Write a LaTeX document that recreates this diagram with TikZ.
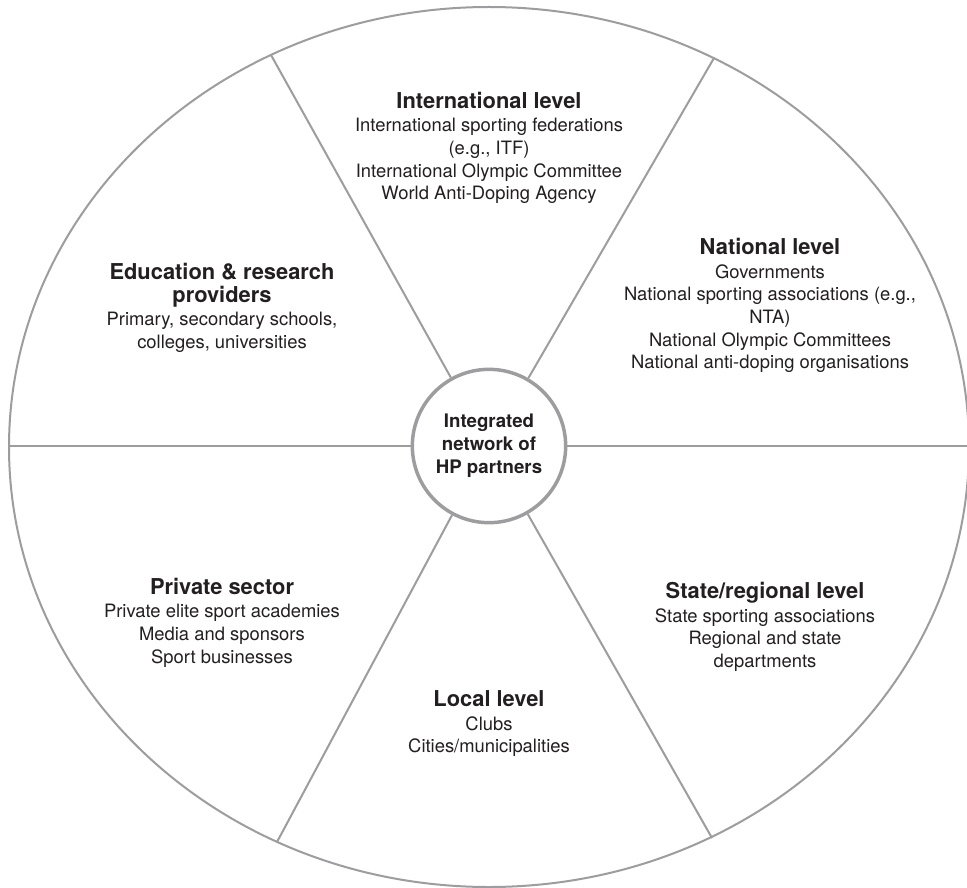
\documentclass[tikz,border=0pt]{standalone}
\usepackage{fontspec}
\setmainfont{TeX Gyre Heros}
\definecolor{rimgray}{RGB}{157,157,159}
\definecolor{inkblack}{RGB}{35,31,32}
\newcommand{\bodyfont}{\fontsize{13.8}{17}\selectfont}
\newcommand{\headfont}{\fontsize{16.4}{17.3}\selectfont\bfseries}
\newcommand{\hubfont}{\fontsize{14}{17.3}\selectfont\bfseries}
\tikzset{
  rim/.style={draw=rimgray, line width=1.5pt},
  spoke/.style={draw=rimgray, line width=1.5pt},
  hub/.style={circle, draw=rimgray, line width=2.6pt, fill=white,
    minimum size=115pt, inner sep=0pt, align=center, font=\hubfont, text=inkblack},
  head/.style={font=\headfont, text=inkblack, align=center, inner sep=0pt, anchor=north},
  body/.style={font=\bodyfont, text=inkblack, align=center, inner sep=0pt, anchor=north},
}
\begin{document}
\begin{tikzpicture}[x=0.75pt, y=-0.75pt]
  \fill[white] (0,0) rectangle (967,888);
  \useasboundingbox (0,0) rectangle (967,888);

  % outer wheel
  \draw[rim] (489,447) ellipse [x radius=360pt, y radius=330pt];

  % rim points where the spokes end
  \coordinate (ul) at (271,55);
  \coordinate (ur) at (714,58);
  \coordinate (ll) at (277,842);
  \coordinate (lr) at (712,838);
  \coordinate (wl) at (9,446);
  \coordinate (el) at (970,446);

  % central hub
  \node[hub] (hub) at (489,446) {Integrated\\network of\\HP partners};

  % spokes dividing the sectors
  \draw[spoke] (hub) -- (ul);
  \draw[spoke] (hub) -- (ur);
  \draw[spoke] (hub) -- (ll);
  \draw[spoke] (hub) -- (lr);
  \draw[spoke] (hub.west) -- (wl);
  \draw[spoke] (hub.east) -- (el);

  % sector labels
  \node[head] (intH) at (489,92) {International level};
  \node[body] (intB) at (489,118) {International sporting federations\\(e.g., ITF)\\International Olympic Committee\\World Anti-Doping Agency};

  \node[head] (natH) at (770,238) {National level};
  \node[body] (natB) at (770,264) {Governments\\National sporting associations (e.g.,\\NTA)\\National Olympic Committees\\National anti-doping organisations};

  \node[head] (eduH) at (222,263) {Education \& research\\providers};
  \node[body] (eduB) at (222,312) {Primary, secondary schools,\\colleges, universities};

  \node[head] (priH) at (222,578) {Private sector};
  \node[body] (priB) at (222,604) {Private elite sport academies\\Media and sponsors\\Sport businesses};

  \node[head] (staH) at (765,582) {State/regional level};
  \node[body] (staB) at (765,608) {State sporting associations\\Regional and state\\departments};

  \node[head] (locH) at (489,690) {Local level};
  \node[body] (locB) at (489,716) {Clubs\\Cities/municipalities};
\end{tikzpicture}
\end{document}
